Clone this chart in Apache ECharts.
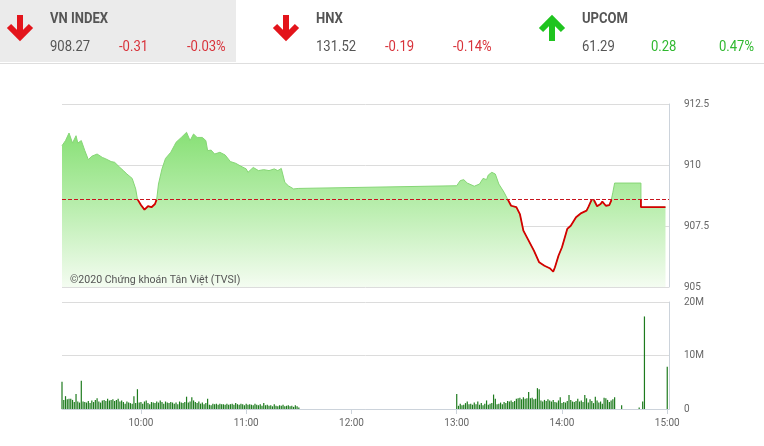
<!DOCTYPE html>
<html><head><meta charset="utf-8">
<script src="https://cdn.jsdelivr.net/npm/echarts@6/dist/echarts.min.js"></script>
<style>html,body{margin:0;padding:0;background:#fff}#c{width:764px;height:446px}</style>
</head><body><div id="c"></div>
<script>
// ---- header data ----
const indexNames = ['VN INDEX', 'HNX', 'UPCOM'];
const indexValues = ['908.27', '131.52', '61.29'];
const indexChanges = ['-0.31', '-0.19', '0.28'];
const indexPercents = ['-0.03%', '-0.14%', '0.47%'];
const indexUp = [false, false, true];

const referencePrice = 908.58;
const watermark = '©2020 Chứng khoán Tân Việt (TVSI)';

// ---- price series ----
const priceTimes = [
  '09:15','09:17','09:19','09:21','09:23','09:24','09:26','09:28','09:30','09:32',
  '09:35','09:38','09:40','09:41','09:43','09:45','09:48','09:50','09:52','09:55',
  '09:57','09:58','10:00','10:02','10:04','10:06','10:08','10:09','10:10','10:12',
  '10:14','10:17','10:19','10:20','10:23','10:24','10:26','10:28','10:30','10:32',
  '10:35','10:37','10:38','10:40','10:42','10:45','10:48','10:51','10:54','10:57',
  '11:00','11:01','11:04','11:07','11:10','11:13','11:16','11:18','11:20','11:22',
  '11:24','11:27','11:30',
  '13:00','13:02','13:04','13:06','13:10','13:13','13:15','13:17','13:18','13:20',
  '13:22','13:24','13:27','13:29','13:31','13:34','13:36','13:38','13:41','13:44',
  '13:47','13:50','13:53','13:55','13:56','13:58','14:00','14:03','14:05','14:08',
  '14:11','14:14','14:15','14:16','14:17','14:18','14:20','14:22','14:23','14:25',
  '14:27','14:28','14:29','14:30','14:45','14:45','14:59'
];
const priceValues = [
  910.79,911.00,911.31,910.90,911.20,910.90,911.00,910.59,910.22,910.36,
  910.45,910.31,910.25,910.27,910.14,910.11,909.90,909.77,909.63,909.45,
  909.02,908.60,908.36,908.17,908.31,908.27,908.40,908.60,909.22,909.84,
  910.27,910.52,910.79,910.93,911.13,911.20,911.34,911.00,911.27,911.13,
  911.13,911.00,910.59,910.61,910.45,910.52,910.41,910.14,910.07,909.95,
  909.84,909.70,909.90,909.77,909.81,909.77,909.84,909.77,909.86,909.29,
  909.15,909.02,909.04,
  909.15,909.36,909.40,909.26,909.13,909.22,909.45,909.40,909.59,909.70,
  909.63,909.22,908.88,908.60,908.33,908.27,907.99,907.31,906.90,906.49,
  906.01,905.87,905.77,905.63,905.81,906.28,906.63,907.38,907.51,907.86,
  908.03,908.13,908.27,908.20,908.60,908.60,908.31,908.40,908.50,908.33,
  908.36,908.53,908.88,909.26,909.26,908.27,908.27
];

// ---- volume series (millions), one value per minute ----
const volMorningStart = '09:15';
const volMorning = [
  5.1,1.7,2.4,1.8,1.9,1.9,1.7,1.3,2.8,1.4,
  1.2,5.3,1.4,1.3,1.2,1.5,1.1,1.6,1.3,1.7,
  2.0,1.4,1.2,1.6,1.7,1.5,1.9,1.6,1.7,1.8,
  1.5,1.7,1.9,1.4,1.6,1.3,1.0,1.4,1.2,1.1,
  1.0,2.4,1.1,3.7,1.2,1.3,1.0,1.4,1.6,1.1,
  0.9,1.3,1.2,1.1,1.4,1.2,1.6,1.3,1.0,1.4,
  1.2,1.1,1.3,1.2,1.0,1.2,0.9,1.4,1.2,1.1,
  1.3,2.3,1.2,1.4,2.2,1.6,1.3,1.1,1.4,1.0,
  1.2,0.9,1.1,1.9,0.8,0.7,1.0,0.9,1.0,0.8,
  1.0,0.9,0.9,0.8,1.0,0.8,0.9,1.0,0.8,1.1,
  0.9,0.8,1.0,0.9,0.7,1.0,0.8,0.9,0.8,0.7,
  1.0,0.8,0.7,0.9,0.6,1.1,0.7,0.8,0.6,0.7,
  0.5,0.9,0.6,0.5,0.7,0.6,0.8,0.5,0.6,0.7,
  0.5,0.6,0.4,0.7,0.5,0.3
];
const volAfternoonStart = '13:00';
const volAfternoon = [
  2.8,0.6,1.0,0.7,0.8,1.1,1.4,0.9,1.0,0.8,
  1.2,0.9,1.4,0.8,1.1,0.7,1.0,1.6,0.8,1.0,
  1.1,2.7,1.9,0.9,1.0,1.2,0.9,1.3,1.1,1.5,
  1.4,1.6,1.3,1.5,1.9,2.0,2.1,1.8,2.2,1.9,
  2.0,3.2,2.0,2.1,1.8,1.9,3.9,3.7,1.6,1.4,
  1.7,1.5,1.8,1.6,1.4,1.7,1.3,1.2,1.6,2.2,
  1.1,1.3,1.2,1.5,2.6,1.7,1.4,1.3,1.5,1.9,
  1.4,1.6,1.3,2.6,2.0,1.2,1.8,1.5,1.1,2.3,
  1.6,1.2,1.4,1.0,2.1,2.0,1.7,1.3,1.6,1.8,
  2.2
];
const volExtraTimes = ['14:34','14:44','14:46','14:47','15:00'];
const volExtraValues = [0.7, 0.3, 1.4, 17.3, 7.9];

// ---- axis ticks ----
const timeTickLabels = ['10:00','11:00','12:00','13:00','14:00','15:00'];
const axisStart = '09:15';
const axisEnd = '15:01';
const priceMin = 905, priceMax = 912.5, priceStep = 2.5;
const volMax = 20, volStep = 10;

// ---- build ----
function toMin(s){ const p = s.split(':'); return (+p[0])*60 + (+p[1]); }
const priceData = priceTimes.map((t,i)=>[toMin(t), priceValues[i]]);
// portion of the price line below the reference (split at crossings)
const redData = [];
priceData.forEach((p,i)=>{
  const [x,y] = p;
  if (i>0){
    const [x0,y0] = priceData[i-1];
    if ((y0-referencePrice)*(y-referencePrice) < 0){
      const xc = x0 + (referencePrice-y0)*(x-x0)/(y-y0);
      redData.push([xc, referencePrice]);
    }
  }
  redData.push(y <= referencePrice ? [x,y] : [x,'-']);
});
const volData = [];
volMorning.forEach((v,i)=>volData.push([toMin(volMorningStart)+i, v*1e6]));
volAfternoon.forEach((v,i)=>volData.push([toMin(volAfternoonStart)+i, v*1e6]));
volExtraTimes.forEach((t,i)=>volData.push([toMin(t), volExtraValues[i]*1e6]));
const tickVals = timeTickLabels.map(toMin);
function fmtTime(v){ const h=Math.floor(v/60), m=v%60; return h+':'+(m<10?'0':'')+m; }

const RED='#e3141b', GREEN='#1fc41f', TXT='#555';
const cols = [7, 273, 539];
const graphics = [
  {type:'rect', shape:{x:0,y:0,width:236,height:62}, style:{fill:'#ebebeb'}, silent:true},
  {type:'line', shape:{x1:0,y1:63.5,x2:764,y2:63.5}, style:{stroke:'#dedede',lineWidth:1}, silent:true}
];
cols.forEach((x0,i)=>{
  const cx = x0+13;
  const col = indexUp[i]?GREEN:RED;
  if(!indexUp[i]){
    graphics.push({type:'line', shape:{x1:cx,y1:15,x2:cx,y2:36}, style:{stroke:col,lineWidth:6}});
    graphics.push({type:'polyline', shape:{points:[[cx-11,26],[cx,37],[cx+11,26]]}, style:{stroke:col,lineWidth:6,fill:null}});
  } else {
    graphics.push({type:'line', shape:{x1:cx,y1:20,x2:cx,y2:41}, style:{stroke:col,lineWidth:6}});
    graphics.push({type:'polyline', shape:{points:[[cx-11,30],[cx,19],[cx+11,30]]}, style:{stroke:col,lineWidth:6,fill:null}});
  }
  const chCol = indexUp[i]?'#2fb82f':'#d8323a';
  const t = (txt,x,y,font,fill)=>({type:'text', x:x, y:y, scaleX:0.87, silent:true,
    style:{text:txt, x:0, y:0, font:font, fill:fill, verticalAlign:'middle', textVerticalAlign:'middle'}});
  graphics.push(t(indexNames[i], x0+43, 19, 'bold 15px Roboto', TXT));
  graphics.push(t(indexValues[i], x0+43, 47, '15px Roboto', TXT));
  graphics.push(t(indexChanges[i], x0+112, 47, '15px Roboto', chCol));
  graphics.push(t(indexPercents[i], x0+180, 47, '15px Roboto', chCol));
});
graphics.push({type:'text', x:70, y:280, z:100, scaleX:0.92, silent:true,
  style:{text:watermark, x:0, y:0, font:'11.5px Roboto', fill:'#555', verticalAlign:'middle', textVerticalAlign:'middle'}});

const chart = echarts.init(document.getElementById('c'), null, {renderer:'canvas'});
chart.setOption({
  animation:false,
  backgroundColor:'#fff',
  grid:[
    {left:62, right:95, top:104, height:183, outerBoundsMode:'none', containLabel:false},
    {left:62, right:95, top:302, height:107, outerBoundsMode:'none', containLabel:false}
  ],
  xAxis:[
    {type:'value', gridIndex:0, min:toMin(axisStart), max:toMin(axisEnd),
     axisLine:{show:false}, axisTick:{show:false}, axisLabel:{show:false}, splitLine:{show:false}},
    {type:'value', gridIndex:1, min:toMin(axisStart), max:toMin(axisEnd),
     axisLine:{show:true, lineStyle:{color:'#ccd3db'}},
     axisTick:{show:true, customValues:tickVals, length:5, lineStyle:{color:'#ccd3db'}},
     axisLabel:{show:true, customValues:tickVals, formatter:fmtTime, color:'#666', fontSize:10, fontFamily:'Roboto', margin:9},
     splitLine:{show:false}}
  ],
  yAxis:[
    {type:'value', gridIndex:0, position:'right', min:priceMin, max:priceMax, interval:priceStep,
     axisLine:{show:true, lineStyle:{color:'#ccd3db'}}, axisTick:{show:false},
     axisLabel:{color:'#666', fontSize:10, fontFamily:'Roboto', margin:15, showMinLabel:true, showMaxLabel:true},
     splitLine:{show:true, lineStyle:{color:'#dcdcdc'}}},
    {type:'value', gridIndex:1, position:'right', min:0, max:volMax*1e6, interval:volStep*1e6,
     axisLine:{show:true, lineStyle:{color:'#ccd3db'}}, axisTick:{show:false},
     axisLabel:{color:'#666', fontSize:10, fontFamily:'Roboto', margin:15, showMinLabel:true, showMaxLabel:true,
       formatter:v=> v===0?'0':(v/1e6)+'M'},
     splitLine:{show:true, lineStyle:{color:'#dcdcdc'}}}
  ],
  graphic:{elements:graphics},
  series:[
    {type:'line', xAxisIndex:0, yAxisIndex:0, data:priceData, showSymbol:false, symbol:'none',
     lineStyle:{color:'#86d676', width:1},
     areaStyle:{origin:'start', opacity:1, color:new echarts.graphic.LinearGradient(0,0,0,1,[
       {offset:0,color:'#88e076'},{offset:0.45,color:'#b6edaa'},{offset:1,color:'#f4fcf1'}])},
     markLine:{silent:true, symbol:'none', label:{show:false}, emphasis:{disabled:true},
       lineStyle:{color:'#c8141e', type:[4,2], width:1, opacity:1}, data:[{yAxis:referencePrice, lineStyle:{color:'#c8141e'}}]},
     z:2},
    {type:'line', xAxisIndex:0, yAxisIndex:0, data:redData, showSymbol:false, symbol:'none',
     connectNulls:false, lineStyle:{width:1.8, color:'#d40000'}, z:4},
    {type:'bar', xAxisIndex:1, yAxisIndex:1, data:volData, barWidth:1.2,
     itemStyle:{color:'#1e7b1e'}}
  ]
});
</script></body></html>
